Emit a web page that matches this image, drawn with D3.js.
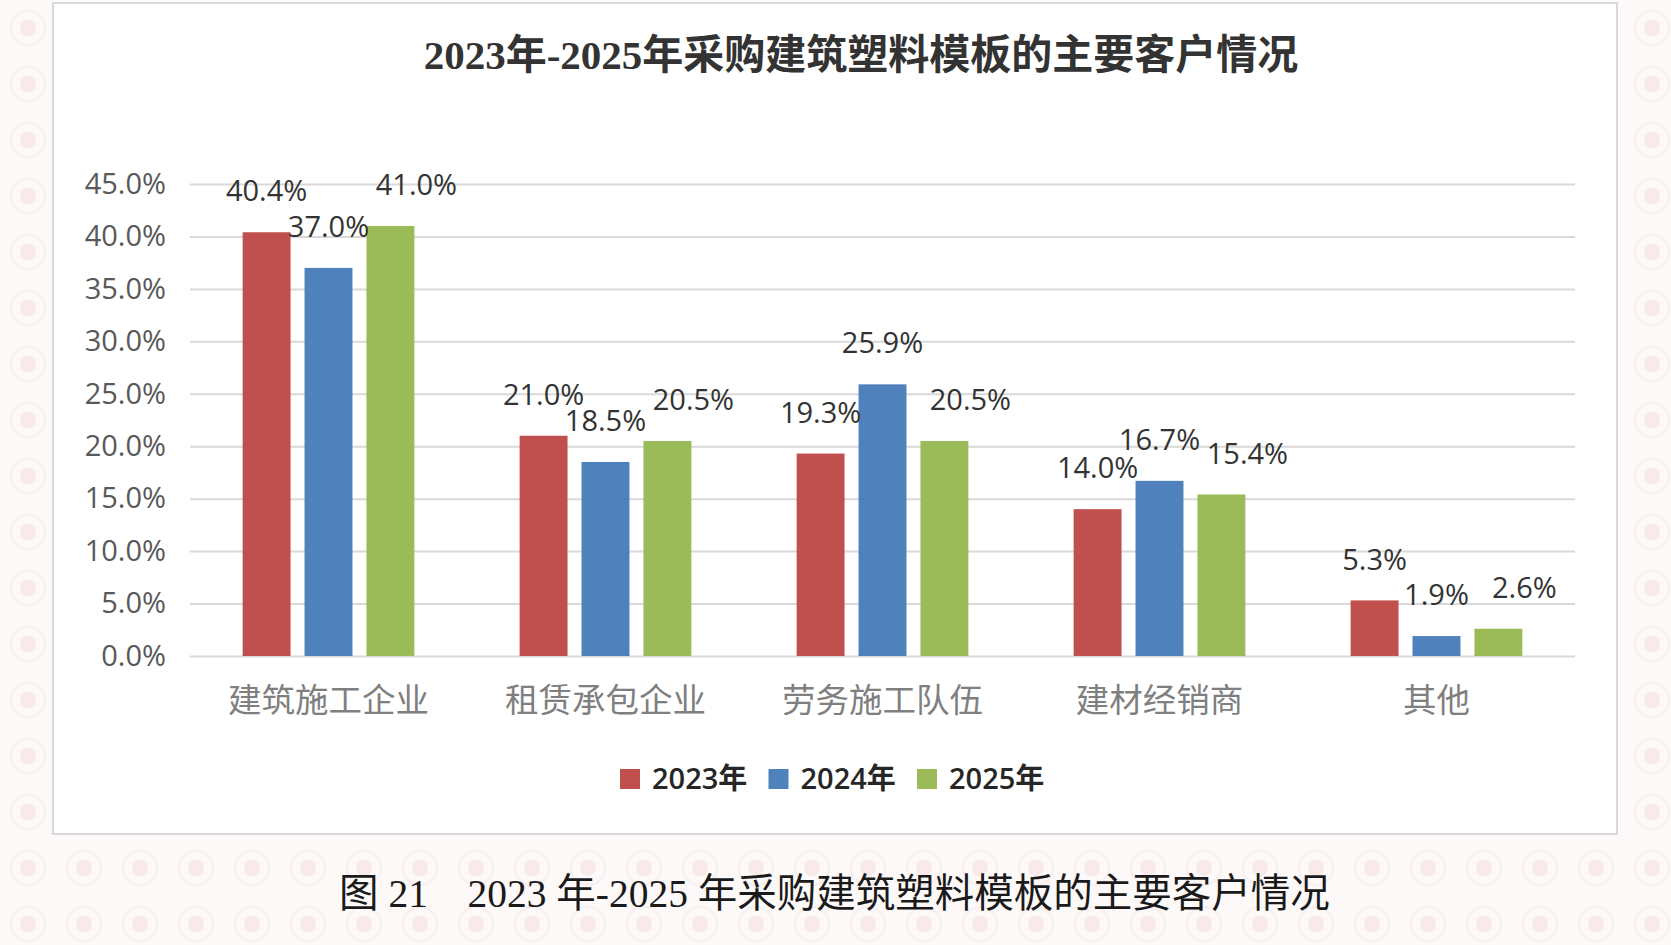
<!DOCTYPE html>
<html>
<head>
<meta charset="utf-8">
<script src="https://cdn.jsdelivr.net/npm/d3@7/dist/d3.min.js"></script>
<style>
  body { margin: 0; background: #fcf6f6; }
  svg { display: block; }
</style>
</head>
<body>
<div class="page"></div>
<script>
var categories = ['建筑施工企业', '租赁承包企业', '劳务施工队伍', '建材经销商', '其他'];
var seriesNames = ['2023年', '2024年', '2025年'];
var values2023 = [40.4, 21.0, 19.3, 14.0, 5.3];
var values2024 = [37.0, 18.5, 25.9, 16.7, 1.9];
var values2025 = [41.0, 20.5, 20.5, 15.4, 2.6];
var yTicks = [0, 5, 10, 15, 20, 25, 30, 35, 40, 45];

var colors = ['#c0504d', '#4f81bd', '#9bbb59'];
var labelShift = [0, 0, 26]; // excel pushed the green labels to the right

var W = 1671, H = 945;
var plot_dim = {left: 190, right: 1575, top: 184, bottom: 656};
var numFont = '"Open Sans", "Noto Sans CJK SC", sans-serif';

var svg = d3.select('.page').append('svg')
  .attr('width', W)
  .attr('height', H);

// faint patterned page background
var pat = svg.append('defs').append('pattern')
  .attr('id', 'bgpat')
  .attr('width', 56).attr('height', 56)
  .attr('patternUnits', 'userSpaceOnUse');
pat.append('rect').attr('width', 56).attr('height', 56).attr('fill', '#fdf9f9');
pat.append('circle').attr('cx', 28).attr('cy', 28).attr('r', 17)
  .attr('fill', 'none').attr('stroke', '#f8eeee').attr('stroke-width', 2);
pat.append('circle').attr('cx', 28).attr('cy', 28).attr('r', 8).attr('fill', '#f9eaea');

svg.append('rect').attr('width', W).attr('height', H).attr('fill', 'url(#bgpat)');

// white chart box
svg.append('rect')
  .attr('x', 53).attr('y', 3)
  .attr('width', 1564).attr('height', 831)
  .attr('fill', '#ffffff')
  .attr('stroke', '#d9d9d9')
  .attr('stroke-width', 2);

svg.append('text')
  .text('2023年-2025年采购建筑塑料模板的主要客户情况')
  .attr('x', 861).attr('y', 69)
  .attr('text-anchor', 'middle')
  .style('font-family', '"Liberation Serif", "Noto Sans CJK SC", serif')
  .style('font-size', '41px')
  .style('font-weight', 'bold')
  .style('fill', '#333333');

var data = categories.map(function(c, i) {
  return {cat: c, vals: [values2023[i], values2024[i], values2025[i]]};
});

var x0 = d3.scaleBand()
  .domain(categories)
  .range([plot_dim.left, plot_dim.right])
  .paddingInner(0.38)
  .paddingOuter(0.19);

var x1 = d3.scaleBand()
  .domain(d3.range(seriesNames.length))
  .range([0, x0.bandwidth()])
  .paddingInner(0.226);

var yScale = d3.scaleLinear()
  .domain([0, 45])
  .range([plot_dim.bottom, plot_dim.top]);

// gridlines + y labels
var yAxis = d3.axisLeft(yScale)
  .tickValues(yTicks)
  .tickSize(-(plot_dim.right - plot_dim.left))
  .tickPadding(24)
  .tickFormat(function(d) { return d.toFixed(1) + '%'; });

var gy = svg.append('g')
  .attr('transform', 'translate(' + plot_dim.left + ',0)')
  .call(yAxis);
gy.select('.domain').remove();
gy.selectAll('.tick line').attr('stroke', '#d9d9d9').attr('stroke-width', 2);
gy.selectAll('.tick text')
  .style('font-family', numFont)
  .style('font-size', '29px')
  .style('fill', '#595959');

// category labels
var xAxis = d3.axisBottom(x0).tickSize(0).tickPadding(32);
var gx = svg.append('g')
  .attr('transform', 'translate(0,' + plot_dim.bottom + ')')
  .call(xAxis);
gx.select('.domain').remove();
gx.selectAll('.tick text')
  .style('font-family', '"Noto Sans CJK SC", sans-serif')
  .style('font-size', '33.5px')
  .style('fill', '#7f7f7f');

var groups = svg.selectAll('.grp').data(data)
  .enter().append('g')
  .attr('class', 'grp')
  .attr('transform', function(d) { return 'translate(' + x0(d.cat) + ',0)'; });

groups.selectAll('rect')
  .data(function(d) { return d.vals; })
  .enter().append('rect')
  .attr('x', function(d, i) { return x1(i); })
  .attr('width', x1.bandwidth())
  .attr('y', function(d) { return yScale(d); })
  .attr('height', function(d) { return yScale(0) - yScale(d); })
  .attr('fill', function(d, i) { return colors[i]; });

groups.selectAll('.lbl')
  .data(function(d) { return d.vals; })
  .enter().append('text')
  .attr('class', 'lbl')
  .text(function(d) { return d.toFixed(1) + '%'; })
  .attr('x', function(d, i) { return x1(i) + x1.bandwidth() / 2 + labelShift[i]; })
  .attr('y', function(d) { return yScale(d) - 41; })
  .attr('dy', '0.35em')
  .attr('text-anchor', 'middle')
  .style('font-family', numFont)
  .style('font-size', '29px')
  .style('fill', '#333333');

// legend
var legend = svg.append('g').attr('transform', 'translate(620,779)');
var items = legend.selectAll('g').data(seriesNames)
  .enter().append('g')
  .attr('transform', function(d, i) { return 'translate(' + (i * 148.5) + ',0)'; });
items.append('rect')
  .attr('x', 0).attr('y', -10)
  .attr('width', 20).attr('height', 20)
  .attr('fill', function(d, i) { return colors[i]; });
items.append('text')
  .text(function(d) { return d; })
  .attr('x', 32).attr('dy', '0.36em')
  .style('font-family', numFont)
  .style('font-size', '29px')
  .style('font-weight', 600)
  .style('fill', '#262626');

// figure caption under the box
svg.append('text')
  .text('图 21\u00a0\u00a0\u00a0 2023 年-2025 年采购建筑塑料模板的主要客户情况')
  .attr('x', 339).attr('y', 907)
  .style('font-family', '"Liberation Serif", "Noto Sans CJK SC", serif')
  .style('font-size', '39.5px')
  .style('fill', '#1a1a1a');
</script>
</body>
</html>
